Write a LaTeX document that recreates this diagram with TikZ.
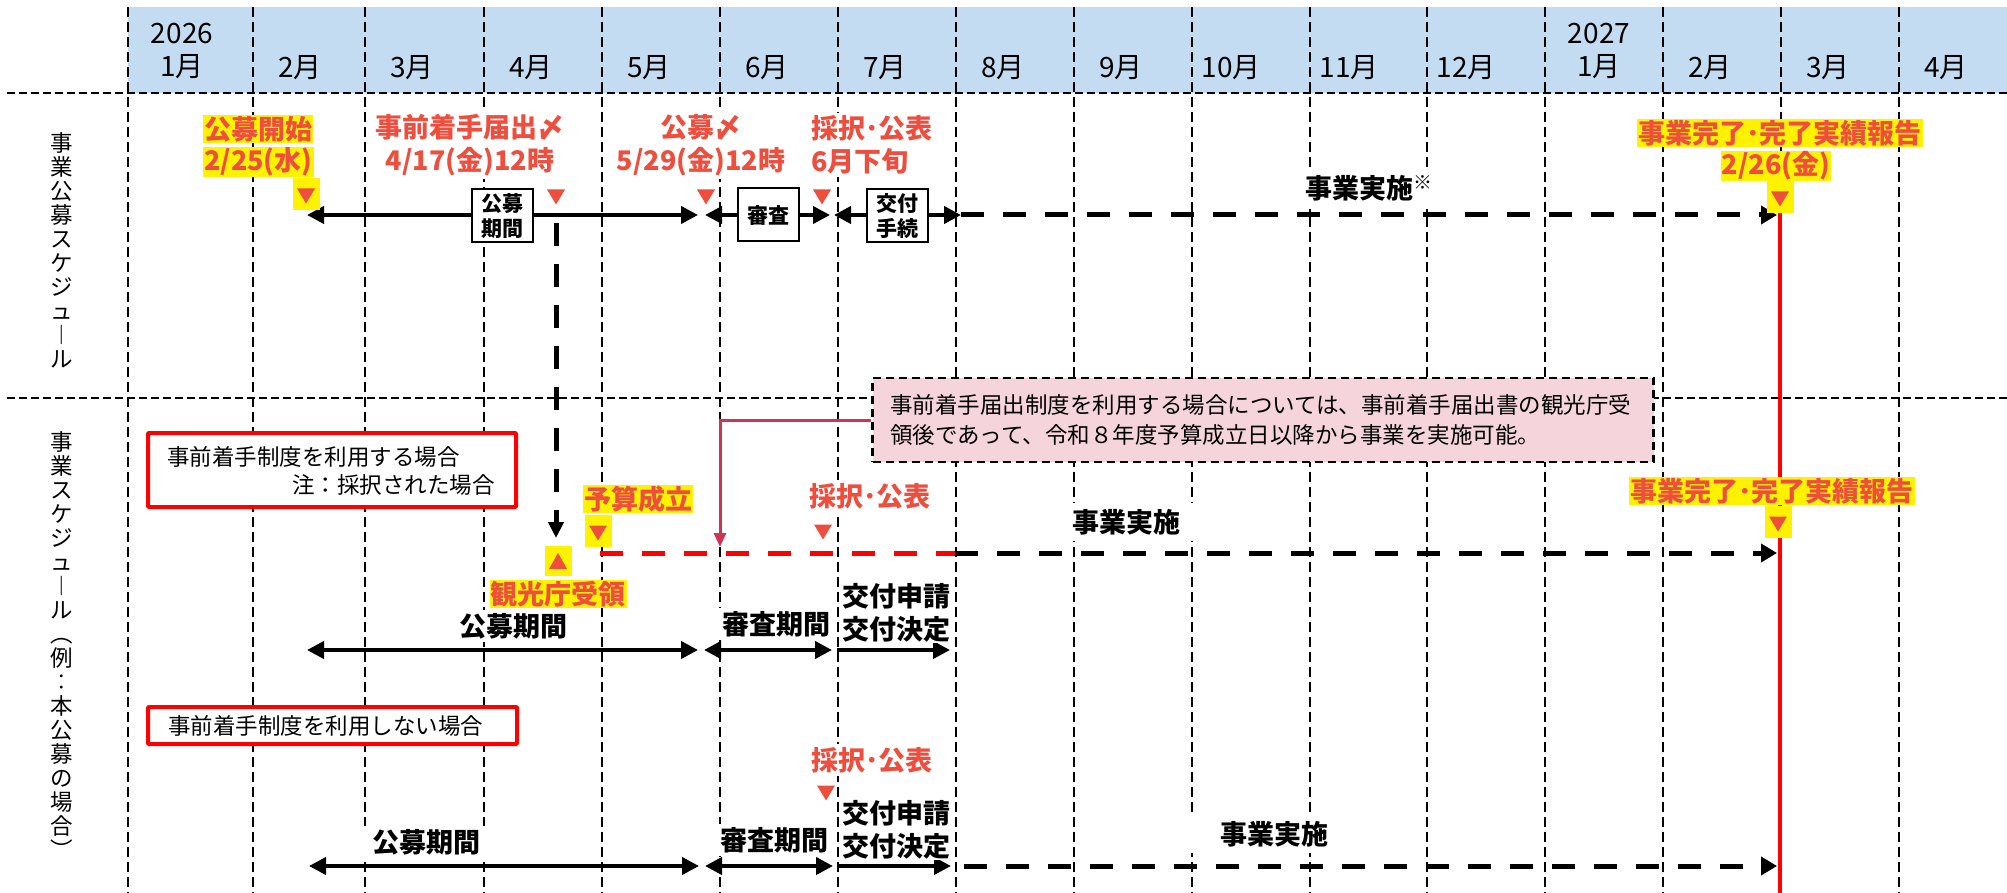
\documentclass[tikz,border=0pt]{standalone}
\usepackage{fontspec}
\setmainfont{Noto Sans CJK JP}
\usetikzlibrary{arrows.meta}
\definecolor{hdrblue}{RGB}{196,220,242}
\definecolor{lblred}{RGB}{238,78,62}
\definecolor{notepink}{RGB}{245,213,219}
\definecolor{connred}{RGB}{208,52,82}
\tikzset{
  gridline/.style={line width=2pt,dash pattern=on 10pt off 5pt},
  hline/.style={line width=2.5pt,dash pattern=on 8pt off 4pt},
  hdr/.style={font=\fontsize{28}{33}\selectfont,inner sep=0pt},
  vlbl/.style={align=center,font=\fontsize{22.5}{24}\selectfont,inner sep=0pt},
  hl/.style={fill=yellow,text=lblred,font=\fontsize{27}{33}\selectfont\bfseries,inner sep=1pt},
  redlbl/.style={fill=white,text=lblred,font=\fontsize{27}{33}\selectfont\bfseries,inner sep=3pt},
  blklbl/.style={fill=white,font=\fontsize{27}{33}\selectfont\bfseries,inner sep=3pt},
  periodbox/.style={draw,line width=2pt,fill=white,minimum width=61pt,minimum height=53pt,
    align=center,font=\fontsize{21}{25}\selectfont\bfseries,inner sep=0pt},
  bispan/.style={line width=4pt,{Triangle[length=17pt,width=17pt]}-{Triangle[length=17pt,width=17pt]}},
  onespan/.style={line width=4pt,-{Triangle[length=17pt,width=17pt]}},
  runline/.style={line width=5pt,dash pattern=on 23pt off 19pt},
  runtip/.style={-{Triangle[length=16pt,width=18pt]}},
  casebox/.style={draw=red,line width=4pt,fill=white,rounded corners=1pt},
  casetxt/.style={font=\fontsize{22.5}{28}\selectfont,inner sep=0pt},
  notebox/.style={draw,fill=notepink,line width=2.5pt,dash pattern=on 8pt off 5pt,
    text width=746pt,inner xsep=17.5pt,minimum height=84pt,align=left,
    font=\fontsize{22.5}{30}\selectfont},
  dtri/.pic={\fill[lblred] (-9,-7.5) -- (9,-7.5) -- (0,7.5) -- cycle;},
  hdtri/.pic={\fill[yellow] (-13.5,-16) rectangle (13.5,16);
    \fill[lblred] (-9,-5.5) -- (9,-5.5) -- (0,9.5) -- cycle;},
  hutri/.pic={\fill[yellow] (-13.5,-15) rectangle (13.5,15);
    \fill[lblred] (-9,8) -- (9,8) -- (0,-8) -- cycle;}
}
\begin{document}
\begin{tikzpicture}[x=1pt,y=-1pt]
\useasboundingbox (0,0) rectangle (2007,893);
% header band and grid
\fill[hdrblue] (128,7) rectangle (2007,93);
\foreach \gx in {128,253,365,484,602,720,838,956,1074,1192,1310,1427,1545,1663,1781,1899}
  \draw[gridline] (\gx,7) -- (\gx,893);
\draw[hline] (7,93) -- (2007,93);
\draw[hline] (7,398) -- (2007,398);
\node[hdr,align=center] (y26) at (182,51) {2026\\1月};
\node[hdr,align=center] (y27) at (1599,51) {2027\\1月};
\foreach \gx/\mo in {253/2,365/3,484/4,602/5,720/6,838/7,956/8,1074/9,1192/10,1310/11,1427/12,1663/2,1781/3,1899/4}
  \node[hdr,anchor=east] (m\gx) at (\gx+69,68) {\mo 月};
% left labels
\node[vlbl] (rowA) at (62,250) {事\\業\\公\\募\\ス\\ケ\\ジ\\ュ\\︱\\ル};
\node[vlbl] (rowB) at (62,645) {事\\業\\ス\\ケ\\ジ\\ュ\\︱\\ル\\︵\\例\\︰\\本\\公\\募\\の\\場\\合\\︶};
% end of project line
\coordinate (fin0) at (1780,213);
\coordinate (fin1) at (1780,893);
\draw[red,line width=4pt] (fin0) -- (fin1);
% row 1: call schedule
\coordinate (kA) at (307,215); \coordinate (kB) at (698,215);
\coordinate (sA) at (705,215); \coordinate (sB) at (830,215);
\coordinate (tA) at (834,215); \coordinate (tB) at (961,215);
\coordinate (runA) at (1777,215);
\draw[bispan] (kA) -- (kB);
\draw[bispan] (sA) -- (sB);
\draw[bispan] (tA) -- (tB);
\draw[runline,runtip] (tB) -- (runA);
\node[periodbox] (kbox) at (502,216) {公募\\期間};
\node[periodbox] (sbox) at (768,215) {審査};
\node[periodbox] (tbox) at (897,216) {交付\\手続};
\node[hl,anchor=west] (open1) at (203,129) {公募開始};
\node[hl,anchor=west] (open2) at (203,162) {2/25(水)};
\pic at (306,194) {hdtri};
\node[redlbl,align=center] (pre) at (470,145) {事前着手届出〆\\4/17(金)12時};
\pic at (556,197) {dtri};
\node[redlbl,align=center] (close) at (701,145) {公募〆\\5/29(金)12時};
\pic at (706,197) {dtri};
\node[redlbl,align=left,anchor=west] (pick) at (808,145) {採択･公表\\6月下旬};
\pic at (822,197) {dtri};
\node[blklbl,inner sep=8pt] (runlbl) at (1369,188) {事業実施\textsuperscript{※}};
\node[hl] (done1) at (1780,133) {事業完了･完了実績報告};
\node[hl] (done2) at (1776,166) {2/26(金)};
\pic at (1780,197) {hdtri};
% row 2: project schedule
\coordinate (pre0) at (556,223); \coordinate (pre1) at (556,538);
\draw[runline,dash pattern=on 23pt off 18pt,-{Triangle[length=16pt,width=15pt]}] (pre0) -- (pre1);
\node[notebox] (note) at (1263,420) {事前着手届出制度を利用する場合については、事前着手届出書の観光庁受\\領後であって、令和８年度予算成立日以降から事業を実施可能。};
\coordinate (recv) at (720,547);
\draw[connred,line width=3pt,-{Triangle[length=14pt,width=12pt]}] (note.west) -| (recv);
\node[casebox,minimum width=368pt,minimum height=74pt] (caseA) at (332,470) {};
\node[casetxt,anchor=west] (caseA1) at (167,457) {事前着手制度を利用する場合};
\node[casetxt,anchor=east] (caseA2) at (495,485) {注：採択された場合};
\coordinate (bud) at (600,553); \coordinate (sw2) at (955,553); \coordinate (runB) at (1777,553);
\draw[runline,red] (bud) -- (sw2);
\draw[runline,runtip] (sw2) -- (runB);
\node[hl] (budget) at (638,499) {予算成立};
\pic at (598,531) {hdtri};
\pic at (558,561) {hutri};
\node[hl] (recvlbl) at (558,594) {観光庁受領};
\node[redlbl] (pickB) at (870,496) {採択･公表};
\pic at (823,532) {dtri};
\node[blklbl,inner xsep=16pt,inner ysep=6pt] (runlblB) at (1126,522) {事業実施};
\node[hl] (doneB) at (1772,491) {事業完了･完了実績報告};
\pic at (1778,522) {hdtri};
\coordinate (kA2) at (307,650); \coordinate (kB2) at (698,650);
\coordinate (sA2) at (704,650); \coordinate (sB2) at (832,650);
\coordinate (tA2) at (837,650); \coordinate (tB2) at (950,650);
\draw[bispan] (kA2) -- (kB2);
\draw[bispan] (sA2) -- (sB2);
\draw[onespan] (tA2) -- (tB2);
\node[blklbl] (kper2) at (513,626) {公募期間};
\node[blklbl] (sper2) at (776,624) {審査期間};
\node[blklbl,align=center,inner sep=1pt] (tper2) at (896,613) {交付申請\\交付決定};
% row 3: without prior start
\node[casebox,casetxt,minimum width=369pt,minimum height=37pt,text width=329pt,inner xsep=20pt,align=left] (caseB) at (332.5,725.5) {事前着手制度を利用しない場合};
\node[redlbl] (pickC) at (872,760) {採択･公表};
\pic at (826,793) {dtri};
\coordinate (kA3) at (309,866); \coordinate (kB3) at (699,866);
\coordinate (sA3) at (705,866); \coordinate (sB3) at (833,866);
\coordinate (tA3) at (838,866); \coordinate (tB3) at (951,866);
\coordinate (rA3) at (964,866); \coordinate (rB3) at (1777,866);
\draw[bispan] (kA3) -- (kB3);
\draw[bispan] (sA3) -- (sB3);
\draw[onespan] (tA3) -- (tB3);
\draw[runline,runtip] (rA3) -- (rB3);
\node[blklbl,inner xsep=16pt] (kper3) at (426,842) {公募期間};
\node[blklbl] (sper3) at (774,840) {審査期間};
\node[blklbl,align=center,inner sep=1pt] (tper3) at (896,830) {交付申請\\交付決定};
\node[blklbl,inner xsep=32pt,inner ysep=6pt] (runlblC) at (1274,834) {事業実施};
\end{tikzpicture}
\end{document}
